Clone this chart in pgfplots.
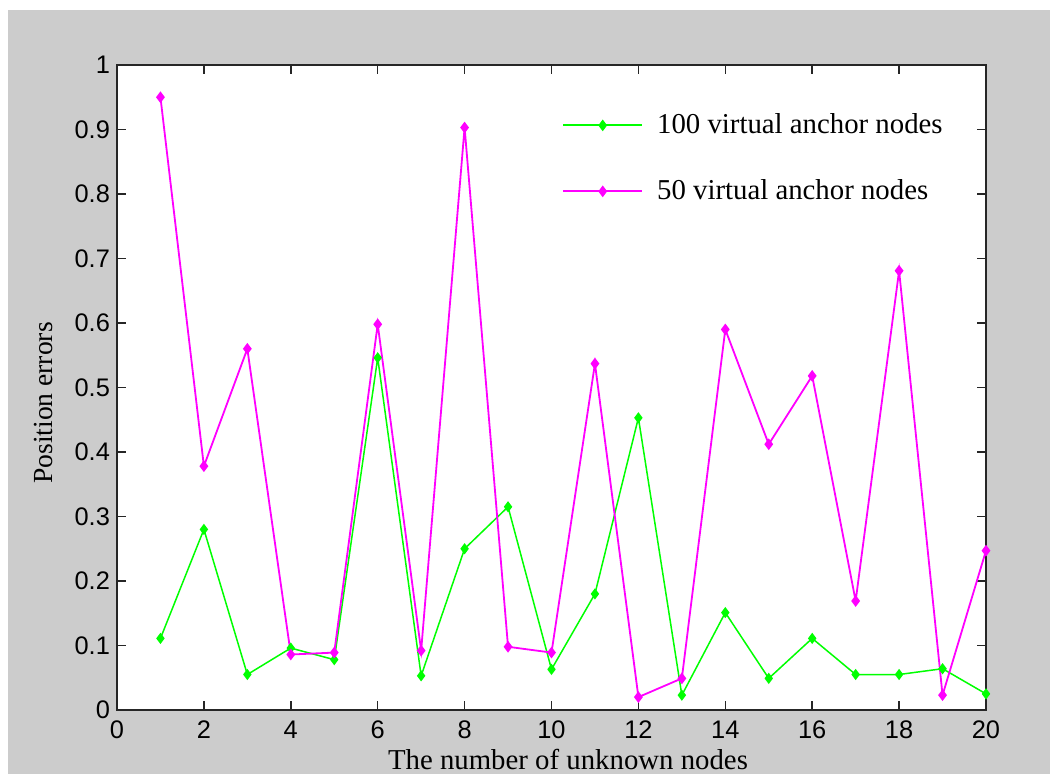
\documentclass[border=0pt]{standalone}
\usepackage{pgfplots}
\pgfplotsset{compat=1.18}
\usepackage{fontspec}
\setmainfont{Liberation Serif}
\newfontfamily\arialfont{Liberation Sans}
\definecolor{figgray}{RGB}{204,204,204}
\definecolor{mgreen}{RGB}{0,255,0}
\definecolor{mmag}{RGB}{255,0,255}
\begin{document}
\begin{tikzpicture}
\fill[white] (0,0) rectangle (525pt,387pt);
\fill[figgray] (4pt,0) rectangle (525pt,382pt);
\begin{axis}[
 scale only axis, width=434.5pt, height=322.5pt,
 at={(58.5pt,32pt)}, anchor=south west,
 xmin=0, xmax=20, ymin=0, ymax=1,
 xtick={0,2,4,6,8,10,12,14,16,18,20},
 ytick={0,0.1,0.2,0.3,0.4,0.5,0.6,0.7,0.8,0.9,1},
 axis background/.style={fill=white},
 axis line style={draw=black!85, line width=0.8pt},
 tick style={black!85, line width=0.8pt},
 major tick length=4.5pt,
 tick align=inside,
 tick label style={font=\arialfont\fontsize{12.7}{14}\selectfont},
 /pgf/number format/assume math mode=true,
 yticklabel style={/pgf/number format/fixed, /pgf/number format/precision=1},
 xticklabel style={yshift=-2pt},
 xlabel={The number of unknown nodes},
 ylabel={Position errors},
 xlabel style={font=\fontsize{14.4}{16}\selectfont, at={(axis description cs:0.519,-0.0775)}, anchor=center},
 ylabel style={font=\fontsize{13.8}{16}\selectfont, at={(axis description cs:-0.0845,0.476)}, anchor=center},
 legend style={draw=none, fill=none, inner sep=0pt, at={(axis description cs:0.512,0.931)}, anchor=north west,
   font=\fontsize{14.4}{16}\selectfont, row sep=17.5pt,
   /tikz/every odd column/.append style={column sep=5pt}},
 legend cell align=left,
 legend image code/.code={\draw[line width=0.9pt,mark repeat=2,mark phase=2,#1] plot coordinates {(0pt,0pt) (19.75pt,0pt) (39.5pt,0pt)};},
]
\addplot[color=mgreen, line width=0.75pt, mark=diamond*, mark size=2.2pt, mark options={solid, fill=mgreen, draw=mgreen}] coordinates {
(1,0.111) (2,0.280) (3,0.055) (4,0.096) (5,0.078) (6,0.546) (7,0.053) (8,0.250) (9,0.315) (10,0.063)
(11,0.180) (12,0.453) (13,0.023) (14,0.151) (15,0.049) (16,0.111) (17,0.055) (18,0.055) (19,0.064) (20,0.025)
};
\addlegendentry{100 virtual anchor nodes}
\addplot[color=mmag, line width=0.9pt, mark=diamond*, mark size=2.2pt, mark options={solid, fill=mmag, draw=mmag}] coordinates {
(1,0.950) (2,0.378) (3,0.560) (4,0.086) (5,0.089) (6,0.598) (7,0.092) (8,0.903) (9,0.098) (10,0.089)
(11,0.537) (12,0.020) (13,0.049) (14,0.590) (15,0.412) (16,0.518) (17,0.169) (18,0.681) (19,0.023) (20,0.247)
};
\addlegendentry{50 virtual anchor nodes}
\end{axis}
\end{tikzpicture}
\end{document}
